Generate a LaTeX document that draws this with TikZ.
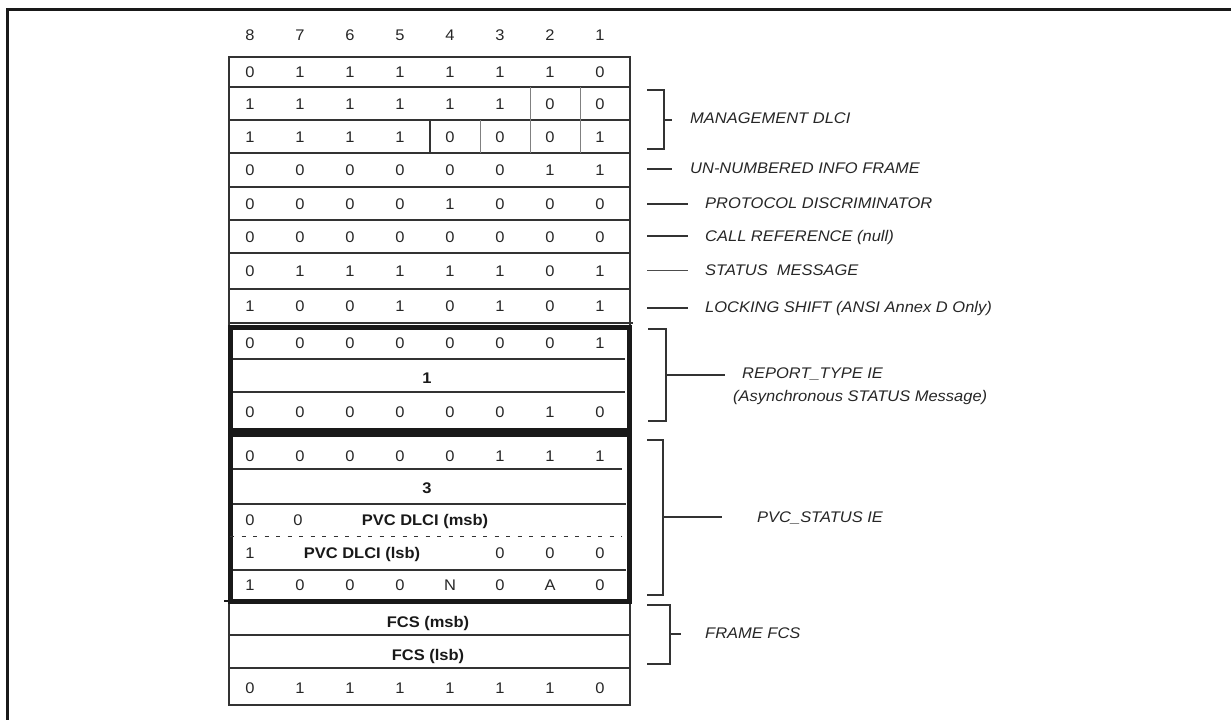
\documentclass[tikz,border=0pt]{standalone}
\usepackage{fontspec}
\setmainfont{Liberation Sans}[FakeStretch=1.07]
\begin{document}
\begin{tikzpicture}[x=1pt,y=-1pt,
  cell/.style={anchor=base,inner sep=0pt,font=\fontsize{15.4}{18}\selectfont,text=black!85},
  bcell/.style={anchor=base,inner sep=0pt,font=\fontsize{15.4}{18}\selectfont\bfseries,text=black!90},
  lab/.style={anchor=base west,inner sep=0pt,font=\fontsize{15.4}{18}\selectfont\itshape,text=black!85},
  rule/.style={line width=1.3pt,draw=black!80},
  srule/.style={line width=1pt,draw=black!50},
  tbox/.style={line width=5pt,draw=black!90},
  brk/.style={line width=1.3pt,draw=black!80,line join=miter}]
\useasboundingbox (0,0) rectangle (1231,720);
% outer frame
\draw[line width=3.5pt,draw=black!90] (1231,9.5) -- (7.5,9.5) -- (7.5,720);

% bit numbers header
\foreach \b [count=\i] in {8,7,6,5,4,3,2,1}
  \node[cell] (h-\i) at ({200+50*\i},40.5) {\b};

% table rules
\draw[rule] (229,57) rectangle (630,705);
\foreach \yy in {87,120,153,187,220,253,289}
  \draw[rule] (229,\yy) -- (630,\yy);
\draw[rule] (229,323) -- (633,323);
\draw[srule] (530,87) -- (530,120);
\draw[srule] (580,87) -- (580,120);
\draw[rule] (430,120) -- (430,153);
\draw[srule] (480,120) -- (480,153);
\draw[srule] (530,120) -- (530,153);
\draw[srule] (580,120) -- (580,153);

% plain bit rows
\foreach \r/\yy/\bits in {
  ra/72/{0,1,1,1,1,1,1,0},
  rb/103.5/{1,1,1,1,1,1,0,0},
  rc/136.5/{1,1,1,1,0,0,0,1},
  rd/170/{0,0,0,0,0,0,1,1},
  re/203.5/{0,0,0,0,1,0,0,0},
  rf/236.5/{0,0,0,0,0,0,0,0},
  rg/271/{0,1,1,1,1,1,0,1},
  rh/306/{1,0,0,1,0,1,0,1},
  ba/343/{0,0,0,0,0,0,0,1},
  bc/412/{0,0,0,0,0,0,1,0},
  ca/456/{0,0,0,0,0,1,1,1},
  ce/585/{1,0,0,0,N,0,A,0},
  fz/688/{0,1,1,1,1,1,1,0}}
  \foreach \b [count=\i] in \bits
    \node[cell] (\r-\i) at ({200+50*\i},\yy+5.5) {\b};

% REPORT_TYPE IE box
\draw[tbox] (230,327.5) rectangle (629,430);
\draw[rule] (233,359) -- (625,359);
\draw[rule] (233,392) -- (625,392);
\node[bcell] (bb) at (427,383.5) {1};

% PVC_STATUS IE box
\draw[tbox] (230,434) rectangle (629,601);
\draw[line width=2pt,draw=black!90] (224,601) -- (230,601);
\draw[rule] (233,469) -- (622,469);
\draw[rule] (233,504) -- (626,504);
\draw[line width=1pt,draw=black!80,dash pattern=on 4pt off 7.5pt] (230,536) -- (622,536);
\draw[rule] (233,570) -- (626,570);
\node[bcell] (cb) at (427,493.5) {3};
\node[cell] (cc-1) at (250,525.5) {0};
\node[cell] (cc-2) at (298,525.5) {0};
\node[bcell] (ccm) at (425,525.5) {PVC DLCI (msb)};
\node[cell] (cd-1) at (250,558.5) {1};
\node[bcell] (cdl) at (362,558.5) {PVC DLCI (lsb)};
\node[cell] (cd-6) at (500,558.5) {0};
\node[cell] (cd-7) at (550,558.5) {0};
\node[cell] (cd-8) at (600,558.5) {0};

% FCS rows
\draw[rule] (229,635) -- (630,635);
\draw[rule] (229,668) -- (630,668);
\node[bcell] (fm) at (428,627.5) {FCS (msb)};
\node[bcell] (fl) at (428,660.5) {FCS (lsb)};

% right-hand labels and brackets
\draw[brk] (647,90) -- (664,90) -- (664,149) -- (647,149);
\draw[brk] (664,120) -- (672,120);
\node[lab] (l-mgmt) at (690,123.5) {MANAGEMENT DLCI};

\draw[brk] (647,169) -- (672,169);
\node[lab] (l-ui) at (690,173.5) {UN-NUMBERED INFO FRAME};

\draw[brk] (647,204) -- (688,204);
\node[lab] (l-pd) at (705,208.5) {PROTOCOL DISCRIMINATOR};

\draw[brk] (647,236) -- (688,236);
\node[lab] (l-cr) at (705,241.5) {CALL REFERENCE (null)};

\draw[line width=0.8pt,draw=black!70] (647,270) -- (688,270);
\node[lab] (l-sm) at (705,275.5) {STATUS\ \ MESSAGE};

\draw[brk] (647,308) -- (688,308);
\node[lab] (l-ls) at (705,312.5) {LOCKING SHIFT (ANSI Annex D Only)};

\draw[brk] (648,329) -- (666,329) -- (666,421) -- (648,421);
\draw[brk] (666,375) -- (725,375);
\node[lab] (l-rt) at (742,378.5) {REPORT\_TYPE IE};
\node[lab] (l-as) at (733,401.5) {(Asynchronous STATUS Message)};

\draw[brk] (647,440) -- (663,440) -- (663,595) -- (647,595);
\draw[brk] (663,517) -- (722,517);
\node[lab] (l-pvc) at (757,522.5) {PVC\_STATUS IE};

\draw[brk] (647,605) -- (670,605) -- (670,664) -- (647,664);
\draw[brk] (670,634) -- (681,634);
\node[lab] (l-fcs) at (705,638.5) {FRAME FCS};
\end{tikzpicture}
\end{document}
